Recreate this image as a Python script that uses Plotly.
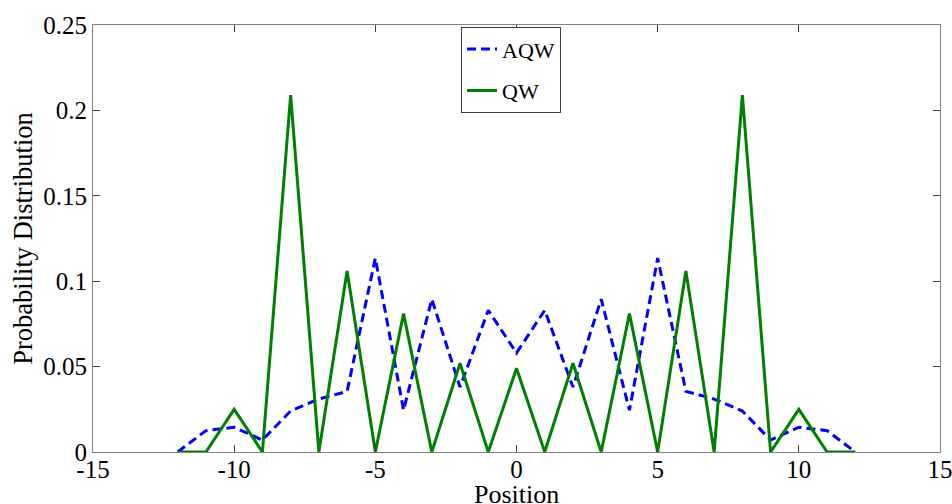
import plotly.graph_objects as go

positions = list(range(-12, 13))
qw = [0, 0, 0.025, 0, 0.209, 0, 0.106, 0, 0.081, 0, 0.052, 0, 0.049,
      0, 0.052, 0, 0.081, 0, 0.106, 0, 0.209, 0, 0.025, 0, 0]
aqw = [0, 0.0125, 0.0145, 0.007, 0.024, 0.031, 0.0355, 0.1135, 0.0245, 0.0895, 0.038, 0.083, 0.058,
       0.083, 0.038, 0.0895, 0.0245, 0.1135, 0.0355, 0.031, 0.024, 0.007, 0.0145, 0.0125, 0]

xticks = [-15, -10, -5, 0, 5, 10, 15]
xtick_text = ["-15", "-10", "-5", "0", "5", "10", "15"]
yticks = [0, 0.05, 0.1, 0.15, 0.2, 0.25]
ytick_text = ["0", "0.05", "0.1", "0.15", "0.2", "0.25"]
x_title = "Position"
y_title = "Probability Distribution"

FONT = "Liberation Serif"

fig = go.Figure()
fig.add_trace(go.Scatter(x=positions, y=aqw, mode="lines", name="AQW",
                         line=dict(color="#0000FF", width=3, dash="9px,5px"),
                         legendgroup="a"))
fig.add_trace(go.Scatter(x=positions, y=qw, mode="lines", name="QW",
                         line=dict(color="#008000", width=3),
                         legendgroup="b"))

axis_common = dict(showline=True, linecolor="#808080", linewidth=1, mirror="ticks",
                   ticks="inside", ticklen=7, tickcolor="#404040", tickwidth=1,
                   showgrid=False, zeroline=False, automargin=False,
                   ticklabeloverflow="allow",
                   tickfont=dict(family=FONT, size=25, color="black"))

fig.update_layout(
    width=952, height=504,
    margin=dict(l=93, r=12, t=25, b=52),
    plot_bgcolor="white", paper_bgcolor="white",
    font=dict(family=FONT, color="black"),
    xaxis=dict(range=[-15, 15], tickvals=xticks, ticktext=xtick_text, **axis_common,
               ticklabelstandoff=-5),
    yaxis=dict(range=[0, 0.25], tickvals=yticks, ticktext=ytick_text, **axis_common,
               title=dict(text=y_title, font=dict(family=FONT, size=26.5), standoff=2)),
    legend=dict(x=0.4345, y=0.995, xanchor="left", yanchor="top",
                bordercolor="#404040", borderwidth=1, bgcolor="white",
                font=dict(family=FONT, size=22), tracegroupgap=10,
                traceorder="grouped", itemwidth=30),
    showlegend=True,
)
fig.add_annotation(text=x_title, xref="paper", yref="paper", x=0.5, y=-0.1007,
                   xanchor="center", yanchor="middle", showarrow=False,
                   font=dict(family=FONT, size=26, color="black"))

fig.write_html("out.html")
